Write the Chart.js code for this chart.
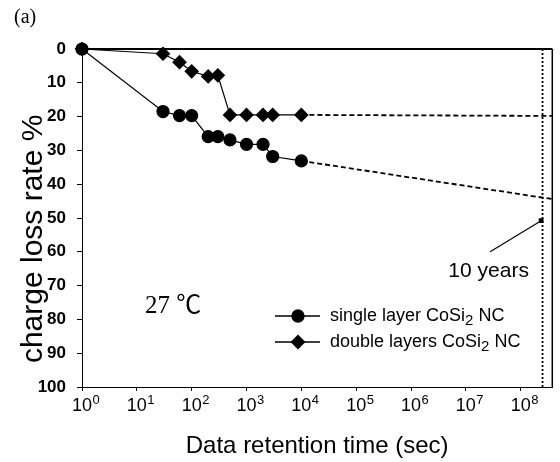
<!DOCTYPE html>
<html>
<head>
<meta charset="utf-8">
<script src="https://cdn.jsdelivr.net/npm/chart.js@4.4.0/dist/chart.umd.min.js"></script>
<style>
    body { margin: 0; background: #fff; }
    #wrap { width: 560px; height: 462px; }
</style>
</head>
<body>
<div id="wrap"><canvas id="myChart" width="560" height="462"></canvas></div>
<script>
// retention time (sec) of the measured points
let times = [1, 30, 60, 100, 200, 300, 500, 1000, 2000, 3000, 10000];
let singleLoss = [0, 18.5, 19.7, 19.7, 25.9, 25.9, 26.9, 28.2, 28.2, 31.8, 33.1];
let doubleLoss = [0, 1.4, 3.9, 6.6, 8.1, 7.8, 19.5, 19.5, 19.5, 19.5, 19.5];

// dashed extrapolation to the end of the axis
let extrapTimes = [10000, 3.77e8];
let singleExtrap = [33.1, 44.4];
let doubleExtrap = [19.5, 19.8];

// 10 years marker + pointer line
let tenYearsTimes = [2.5e8, 2.5e8];
let tenYearsLoss = [0, 100];
let pointerTimes = [2.77e7, 2.36e8];
let pointerLoss = [60, 50.8];

let xTicks = [1, 10, 100, 1e3, 1e4, 1e5, 1e6, 1e7, 1e8];
let xTickBase = '10';
let xTickExp = ['0', '1', '2', '3', '4', '5', '6', '7', '8'];
let seriesNames = ['single layer CoSi', 'double layers CoSi'];

function pts(xs, ys) {
    return xs.map((v, i) => ({ x: v, y: ys[i] }));
}

const SANS = "'Liberation Sans', Arial, sans-serif";
Chart.defaults.color = '#000';
Chart.defaults.font.family = SANS;

// frame, x tick labels (10^n), legend and text notes
const extras = {
    id: 'extras',
    afterDraw(chart) {
        const { ctx, chartArea: a, scales: { x, y } } = chart;
        ctx.save();
        ctx.strokeStyle = '#000';
        ctx.fillStyle = '#000';
        ctx.lineWidth = 2;
        ctx.beginPath();
        ctx.moveTo(a.left, a.top);
        ctx.lineTo(a.right, a.top);
        ctx.stroke();
        ctx.lineWidth = 1.5;
        ctx.beginPath();
        ctx.moveTo(a.right, a.top);
        ctx.lineTo(a.right, a.bottom);
        ctx.stroke();

        // x tick labels with superscript exponent
        ctx.textBaseline = 'middle';
        for (let i = 0; i < xTicks.length; i++) {
            let px = x.getPixelForValue(xTicks[i]);
            ctx.font = '18px ' + SANS;
            ctx.textAlign = 'center';
            ctx.fillText(xTickBase, px, a.bottom + 19);
            let w = ctx.measureText(xTickBase).width;
            ctx.font = '13px ' + SANS;
            ctx.textAlign = 'left';
            ctx.fillText(xTickExp[i], px + w / 2 + 0.5, a.bottom + 13);
        }

        // legend
        let styles = ['circle', 'rectRot'];
        let radii = [6, 6.5];
        for (let i = 0; i < 2; i++) {
            let ly = 316 + i * 26;
            ctx.lineWidth = 1.3;
            ctx.beginPath();
            ctx.moveTo(275, ly);
            ctx.lineTo(320, ly);
            ctx.stroke();
            Chart.helpers.drawPoint(ctx, { pointStyle: styles[i], radius: radii[i], borderWidth: 1 }, 298, ly);
            ctx.textBaseline = 'middle';
            ctx.textAlign = 'left';
            ctx.font = '18px ' + SANS;
            let tx = 330;
            ctx.fillText(seriesNames[i], tx, ly);
            tx += ctx.measureText(seriesNames[i]).width;
            ctx.font = '15px ' + SANS;
            ctx.fillText('2', tx, ly + 5);
            tx += ctx.measureText('2').width;
            ctx.font = '18px ' + SANS;
            ctx.fillText(' NC', tx, ly);
        }

        // notes
        ctx.textAlign = 'center';
        ctx.textBaseline = 'middle';
        ctx.font = '21px ' + SANS;
        ctx.fillText('10 years', x.getPixelForValue(2.6e7), y.getPixelForValue(65.6));
        ctx.font = "25px 'Liberation Serif', 'Noto Sans CJK SC', serif";
        ctx.fillText('27 ℃', x.getPixelForValue(46), y.getPixelForValue(76.1));

        // figure tag
        ctx.font = "20px 'Liberation Serif', serif";
        ctx.textAlign = 'left';
        ctx.fillText('(a)', 14, 18);
        ctx.restore();
    }
};

const config = {
    type: 'line',
    data: {
        datasets: [
            {
                label: 'double layers CoSi2 NC',
                data: pts(times, doubleLoss),
                borderColor: '#000',
                backgroundColor: '#000',
                borderWidth: 1.2,
                pointStyle: 'rectRot',
                pointRadius: 6.5,
                order: 0,
                clip: false,
            }, {
                label: 'single layer CoSi2 NC',
                data: pts(times, singleLoss),
                borderColor: '#000',
                backgroundColor: '#000',
                borderWidth: 1.2,
                pointStyle: 'circle',
                pointRadius: 6,
                order: 1,
                clip: false,
            }, {
                data: pts(extrapTimes, doubleExtrap),
                borderColor: '#000',
                borderWidth: 1.8,
                borderDash: [5, 3],
                pointRadius: 0,
                order: 2,
            }, {
                data: pts(extrapTimes, singleExtrap),
                borderColor: '#000',
                borderWidth: 1.8,
                borderDash: [5, 3],
                pointRadius: 0,
                order: 2,
            }, {
                data: pts(tenYearsTimes, tenYearsLoss),
                borderColor: '#000',
                borderWidth: 1.8,
                borderDash: [2, 2],
                pointRadius: 0,
                order: 2,
            }, {
                data: pts(pointerTimes, pointerLoss),
                borderColor: '#000',
                backgroundColor: '#000',
                borderWidth: 1.2,
                pointStyle: 'rect',
                pointRadius: [0, 2.5],
                order: 2,
            }]
    },
    options: {
        responsive: false,
        animation: false,
        events: [],
        layout: { padding: { top: 49, right: 2, left: 0, bottom: 0 } },
        plugins: {
            legend: { display: false },
            tooltip: { enabled: false },
        },
        scales: {
            x: {
                type: 'logarithmic',
                min: 1,
                max: 3.77e8,
                afterBuildTicks: s => { s.ticks = xTicks.map(v => ({ value: v })); },
                afterFit: s => { s.height = 75; },
                ticks: { display: false, autoSkip: false },
                grid: { drawOnChartArea: false, tickLength: 4, color: '#000' },
                border: { color: '#000', width: 1 },
                title: {
                    display: true,
                    text: 'Data retention time (sec)',
                    font: { size: 24 },
                    padding: { top: 0, bottom: 1 },
                },
            },
            y: {
                type: 'linear',
                reverse: true,
                min: 0,
                max: 100,
                afterFit: s => { s.width = 82; },
                ticks: {
                    stepSize: 10,
                    font: { size: 17, weight: 'bold' },
                    padding: 11,
                },
                grid: { drawOnChartArea: false, tickLength: 5, color: '#000' },
                border: { color: '#000', width: 1 },
                title: {
                    display: true,
                    text: 'charge loss rate %\u00a0\u00a0\u00a0\u00a0\u00a0',
                    font: { size: 30 },
                    padding: { top: 16, bottom: 0 },
                },
            },
        },
    },
    plugins: [extras],
};

let myChart = new Chart(document.getElementById('myChart'), config);
</script>
</body>
</html>
